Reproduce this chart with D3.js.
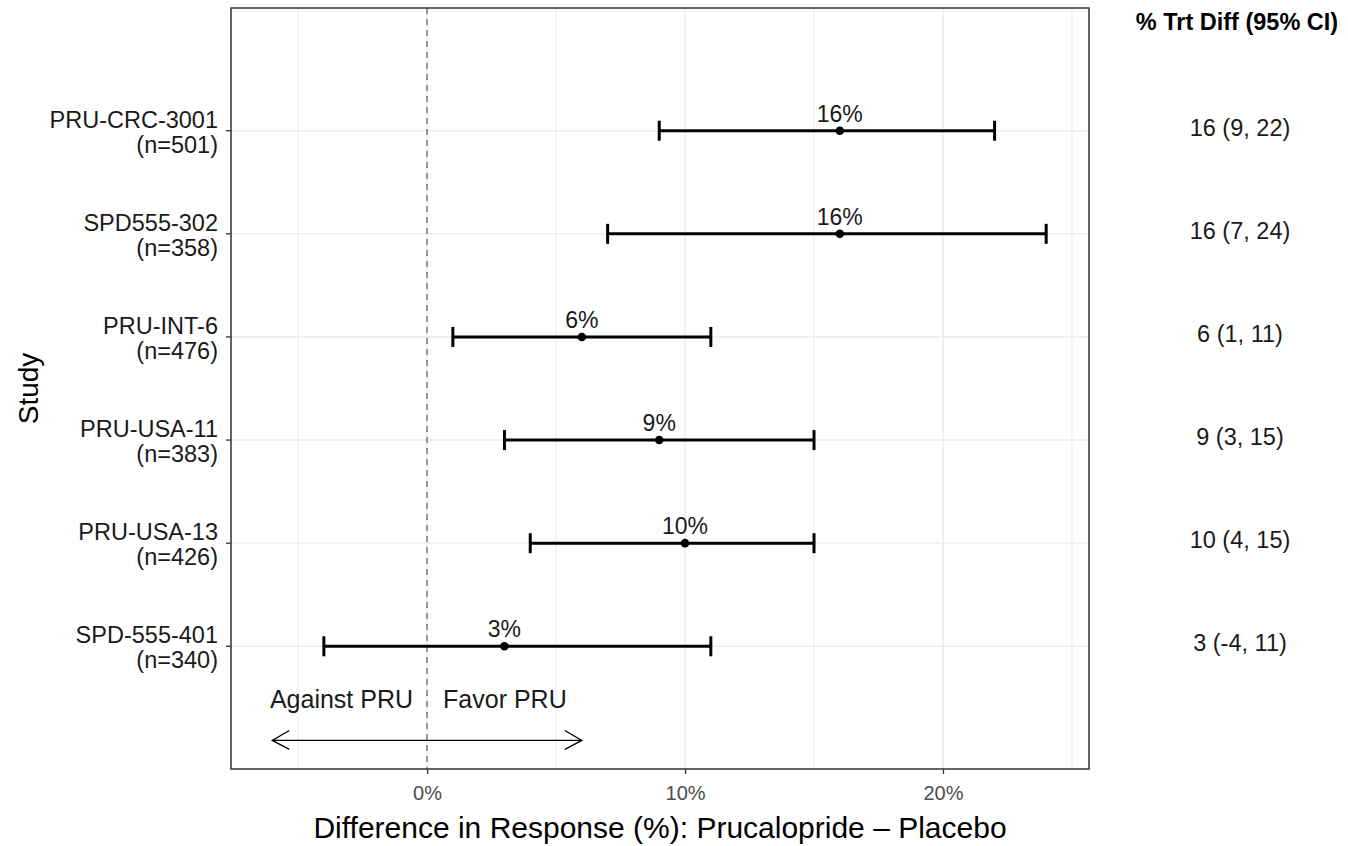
<!DOCTYPE html>
<html><head><meta charset="utf-8">
<script src="https://cdn.jsdelivr.net/npm/d3@7"></script>
<style>body{margin:0;background:#fff}svg{font-family:"Liberation Sans",Arial,sans-serif}</style>
</head><body>
<svg id="c" width="1348" height="846"></svg>
<script>
const studies = ["PRU-CRC-3001","SPD555-302","PRU-INT-6","PRU-USA-11","PRU-USA-13","SPD-555-401"];
const nSizes = [501,358,476,383,426,340];
const estimates = [16,16,6,9,10,3];
const lowerCI = [9,7,1,3,4,-4];
const upperCI = [22,24,11,15,15,11];
const xTicks = [0,10,20];
const xMinorTicks = [-5,5,15,25];
const xLabel = "Difference in Response (%): Prucalopride \u2013 Placebo";
const yLabel = "Study";
const colTitle = "% Trt Diff (95% CI)";
const arrowLeftText = "Against PRU", arrowRightText = "Favor PRU";
const arrowExtent = [-6, 6];

const svg = d3.select("#c");
const L=231,R=1089,T=8,B=769;
const x = d3.scaleLinear().domain([-7.6,25.66]).range([L,R]);
const y = d3.scaleLinear().domain([-0.19,7.19]).range([B,T]);
const rowVal = i => studies.length - i;

// grid
const g = svg.append("g");
g.selectAll(".vg").data(xMinorTicks.concat(xTicks)).join("line")
 .attr("x1",d=>x(d)).attr("x2",d=>x(d)).attr("y1",T).attr("y2",B)
 .attr("stroke","#ebebeb").attr("stroke-width",d=>xTicks.includes(d)?1.4:1);
g.selectAll(".hg").data(studies).join("line")
 .attr("x1",L).attr("x2",R).attr("y1",(d,i)=>y(rowVal(i))).attr("y2",(d,i)=>y(rowVal(i)))
 .attr("stroke","#ebebeb").attr("stroke-width",1.4);

// zero dashed line
svg.append("line").attr("x1",x(0)).attr("x2",x(0)).attr("y1",T).attr("y2",B)
 .attr("stroke","#666").attr("stroke-width",1.3).attr("stroke-dasharray","6,5");

// error bars
const eb = svg.append("g");
studies.forEach((s,i)=>{
  const yy = y(rowVal(i));
  eb.append("line").attr("x1",x(lowerCI[i])).attr("x2",x(upperCI[i])).attr("y1",yy).attr("y2",yy).attr("stroke","#000").attr("stroke-width",3);
  [lowerCI[i],upperCI[i]].forEach(v=>eb.append("line").attr("x1",x(v)).attr("x2",x(v)).attr("y1",yy-10).attr("y2",yy+10).attr("stroke","#000").attr("stroke-width",3));
  eb.append("circle").attr("cx",x(estimates[i])).attr("cy",yy).attr("r",4.3).attr("fill","#000");
  eb.append("text").attr("x",x(estimates[i])).attr("y",yy-9).attr("text-anchor","middle").attr("font-size",23).attr("fill","#1a1a1a").text(estimates[i]+"%");
  // right column
  svg.append("text").attr("x",1240).attr("y",yy+5).attr("text-anchor","middle").attr("font-size",23.5).attr("fill","#1a1a1a")
    .text(`${estimates[i]} (${lowerCI[i]}, ${upperCI[i]})`);
  // y labels
  const t = svg.append("text").attr("text-anchor","end").attr("font-size",23.5).attr("fill","#1a1a1a");
  t.append("tspan").attr("x",218).attr("y",yy-3).text(s);
  t.append("tspan").attr("x",218).attr("y",yy+22).text(`(n=${nSizes[i]})`);
  svg.append("line").attr("x1",L-5).attr("x2",L).attr("y1",yy).attr("y2",yy).attr("stroke","#333").attr("stroke-width",1.3);
});

// arrow
const ay = y(0.087);
const ar = svg.append("g").attr("stroke","#000").attr("stroke-width",1.3).attr("fill","none");
ar.append("line").attr("x1",x(arrowExtent[0])).attr("x2",x(arrowExtent[1])).attr("y1",ay).attr("y2",ay);
ar.append("path").attr("d",`M${x(arrowExtent[0])+17},${ay-10}L${x(arrowExtent[0])},${ay}L${x(arrowExtent[0])+17},${ay+9}`);
ar.append("path").attr("d",`M${x(arrowExtent[1])-17},${ay-10}L${x(arrowExtent[1])},${ay}L${x(arrowExtent[1])-17},${ay+9}`);
svg.append("text").attr("x",x(0)-14).attr("y",y(0.4)).attr("text-anchor","end").attr("font-size",25).attr("fill","#1a1a1a").text(arrowLeftText);
svg.append("text").attr("x",x(0)+16).attr("y",y(0.4)).attr("text-anchor","start").attr("font-size",25).attr("fill","#1a1a1a").text(arrowRightText);

// panel border
svg.append("rect").attr("x",L).attr("y",T).attr("width",R-L).attr("height",B-T).attr("fill","none").attr("stroke","#333").attr("stroke-width",1.5);

// x axis
const xa = svg.append("g").attr("transform",`translate(0,${B})`)
 .call(d3.axisBottom(x).tickValues(xTicks).tickFormat(d=>d+"%").tickSize(5).tickPadding(12));
xa.select(".domain").remove();
xa.selectAll("line").attr("stroke","#333").attr("stroke-width",1.3);
xa.selectAll("text").attr("font-size",20).attr("fill","#4d4d4d").attr("font-family","Liberation Sans, Arial, sans-serif");

svg.append("text").attr("x",660).attr("y",838).attr("text-anchor","middle").attr("font-size",30).attr("fill","#000").text(xLabel);
svg.append("text").attr("transform",`translate(38,${(T+B)/2}) rotate(-90)`).attr("text-anchor","middle").attr("font-size",28).attr("fill","#000").text(yLabel);
svg.append("text").attr("x",1237).attr("y",30).attr("text-anchor","middle").attr("font-size",23.5).attr("font-weight","bold").attr("fill","#000").text(colTitle);
</script>
</body></html>
